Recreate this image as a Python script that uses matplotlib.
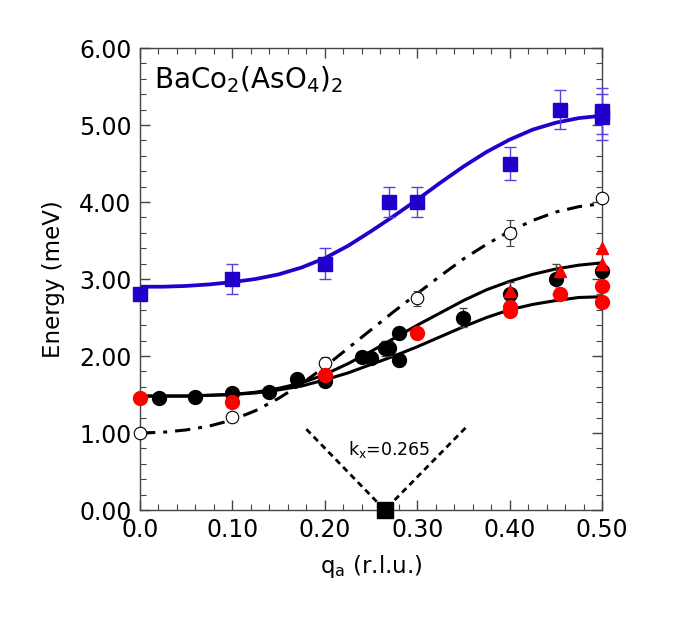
import matplotlib
matplotlib.use("Agg")
import matplotlib.pyplot as plt
import numpy as np

plt.rcParams['font.family'] = ['DejaVu Sans']
plt.rcParams['mathtext.default'] = 'regular'

# fitted dispersion curves, every 0.025 r.l.u.
curve_q = [0.000, 0.025, 0.050, 0.075, 0.100, 0.125, 0.150, 0.175, 0.200, 0.225, 0.250,
           0.275, 0.300, 0.325, 0.350, 0.375, 0.400, 0.425, 0.450, 0.475, 0.500]
blue_fit = [2.90, 2.90, 2.91, 2.93, 2.96, 3.00, 3.06, 3.15, 3.27, 3.43, 3.62,
            3.82, 4.03, 4.25, 4.46, 4.65, 4.81, 4.94, 5.03, 5.09, 5.12]
dashdot_fit = [1.00, 1.01, 1.04, 1.09, 1.17, 1.29, 1.45, 1.64, 1.86, 2.10, 2.34,
               2.58, 2.81, 3.04, 3.26, 3.45, 3.62, 3.76, 3.87, 3.94, 3.98]
upper_fit = [1.48, 1.48, 1.48, 1.49, 1.50, 1.53, 1.58, 1.65, 1.76, 1.90, 2.06,
             2.23, 2.40, 2.56, 2.72, 2.86, 2.97, 3.06, 3.13, 3.18, 3.21]
lower_fit = [1.48, 1.48, 1.48, 1.49, 1.50, 1.52, 1.56, 1.61, 1.69, 1.78, 1.89,
             2.00, 2.12, 2.25, 2.38, 2.50, 2.60, 2.67, 2.72, 2.76, 2.77]

# measured points
blue_q = [0.0, 0.1, 0.2, 0.27, 0.3, 0.4, 0.455, 0.5, 0.5]
blue_E = [2.80, 3.00, 3.20, 4.00, 4.00, 4.50, 5.20, 5.18, 5.10]
blue_err = [0.0, 0.2, 0.2, 0.2, 0.2, 0.22, 0.25, 0.3, 0.3]

black_q = [0.021, 0.06, 0.10, 0.14, 0.17, 0.20, 0.24, 0.25, 0.265, 0.27, 0.28, 0.28, 0.35, 0.40, 0.45, 0.50]
black_E = [1.46, 1.47, 1.52, 1.53, 1.70, 1.68, 1.99, 1.97, 2.10, 2.10, 1.95, 2.30, 2.50, 2.81, 3.00, 3.10]
black_err = [0, 0, 0.07, 0, 0, 0, 0, 0, 0.1, 0.1, 0.08, 0.08, 0.12, 0.15, 0.2, 0]

open_q = [0.0, 0.1, 0.2, 0.3, 0.4, 0.5]
open_E = [1.00, 1.21, 1.91, 2.75, 3.60, 4.05]
open_err = [0, 0, 0.08, 0.1, 0.17, 0]

red_q = [0.0, 0.1, 0.2, 0.3, 0.4, 0.4, 0.455, 0.5, 0.5]
red_E = [1.45, 1.40, 1.75, 2.30, 2.64, 2.59, 2.81, 2.91, 2.70]

tri_q = [0.4, 0.455, 0.5, 0.5]
tri_E = [2.85, 3.10, 3.20, 3.40]

kx = 0.265
v_q = [0.18, kx, 0.355]
v_E = [1.05, 0.0, 1.10]

xticks = [0.0, 0.1, 0.2, 0.3, 0.4, 0.5]
xticklabels = ['0.0', '0.10', '0.20', '0.30', '0.40', '0.50']
yticks = [0, 1, 2, 3, 4, 5, 6]

blue = '#2200cc'
red = '#ff0000'

fig = plt.figure(figsize=(6.79, 6.17), dpi=100)
ax = fig.add_axes([0.2062, 0.1734, 0.6804, 0.7488])

# curves
ax.plot(curve_q, blue_fit, color=blue, lw=2.7, zorder=2, solid_joinstyle='round')
ax.plot(curve_q, dashdot_fit, color='black', lw=2.2, dashes=(5.0, 2.6, 1.3, 2.6), zorder=2)
ax.plot(curve_q, upper_fit, color='black', lw=2.2, zorder=2, solid_joinstyle='round')
ax.plot(curve_q, lower_fit, color='black', lw=2.2, zorder=2, solid_joinstyle='round')

# V around k_x
ax.plot(v_q, v_E, color='black', lw=2.0, dashes=(2.2, 1.6), zorder=2)
ax.plot([kx], [0.0], 's', color='black', ms=11, clip_on=False, zorder=6)

# data
ax.errorbar(blue_q, blue_E, yerr=blue_err, fmt='s', color=blue, ms=10,
            ecolor='#5544dd', elinewidth=1.0, capsize=4, capthick=1.0, zorder=4, clip_on=False)
ax.errorbar(black_q, black_E, yerr=black_err, fmt='o', color='black', ms=10,
            ecolor='#444444', elinewidth=1.0, capsize=3, capthick=1.0, zorder=4, clip_on=False)
ax.errorbar(open_q, open_E, yerr=open_err, fmt='o', mfc='white', mec='black', mew=0.8, ms=9,
            ecolor='#444444', elinewidth=1.0, capsize=3, capthick=1.0, zorder=4, clip_on=False)
ax.plot(red_q, red_E, 'o', color=red, ms=10, zorder=5, clip_on=False)
ax.plot(tri_q, tri_E, '^', color=red, ms=9, zorder=5, clip_on=False)

ax.text(0.225, 0.72, r'k$_x$=0.265', fontsize=12.5)
ax.text(0.015, 5.48, r'BaCo$_2$(AsO$_4$)$_2$', fontsize=20)

ax.set_xlim(0, 0.5)
ax.set_ylim(0, 6)
ax.set_xticks(xticks)
ax.set_xticklabels(xticklabels)
ax.set_yticks(yticks)
ax.set_yticklabels(['%.2f' % v for v in yticks])
ax.set_xticks(np.arange(0, 0.501, 0.02), minor=True)
ax.set_yticks(np.arange(0, 6.01, 0.2), minor=True)
ax.tick_params(which='both', direction='in', top=True, right=True, color='#444444')
ax.tick_params(which='major', length=7, width=1.0, labelsize=17, pad=6)
ax.tick_params(which='minor', length=4, width=0.8)
for s in ax.spines.values():
    s.set_color('#444444')
    s.set_linewidth(1.0)

ax.set_xlabel(r'q$_a$ (r.l.u.)', fontsize=16.5, labelpad=8)
ax.set_ylabel('Energy (meV)', fontsize=16.5, labelpad=10)

fig.savefig('out.png', dpi=100)
